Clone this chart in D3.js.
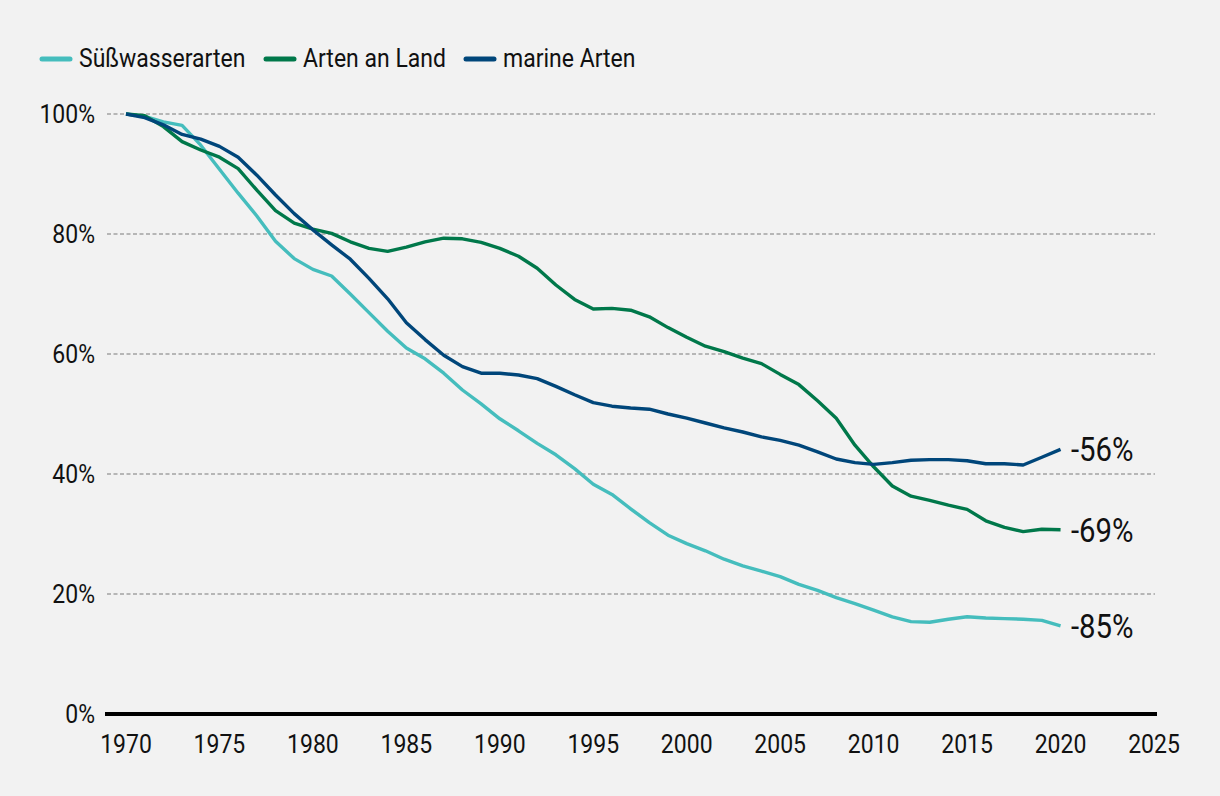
<!DOCTYPE html>
<html>
<head>
<meta charset="utf-8">
<script src="https://cdn.jsdelivr.net/npm/d3@7"></script>
<style>
  html, body { margin: 0; padding: 0; background: #f2f2f2; }
  svg { display: block; }
  text { font-family: Roboto, "Noto Sans", sans-serif; fill: #111; }
</style>
</head>
<body>
<svg id="chart" width="1220" height="796"></svg>
<script>
const years = d3.range(1970, 2021);
const seriesNames = ["Süßwasserarten", "Arten an Land", "marine Arten"];
const seriesColors = ["#45bdbd", "#00784a", "#00467a"];
const freshwater = [100, 99.6, 98.7, 98.1, 94.8, 90.8, 86.8, 83.0, 78.8, 75.9,
  74.1, 73.0, 70.0, 66.9, 63.8, 61.0, 59.2, 56.8, 54.0, 51.7,
  49.2, 47.2, 45.1, 43.2, 40.9, 38.3, 36.6, 34.2, 31.9, 29.8,
  28.4, 27.2, 25.8, 24.7, 23.8, 22.9, 21.6, 20.6, 19.4, 18.4,
  17.3, 16.2, 15.4, 15.3, 15.8, 16.2, 16.0, 15.9, 15.8, 15.6, 14.7];
const land = [100, 99.7, 97.9, 95.4, 94.0, 92.8, 90.9, 87.3, 83.9, 81.8,
  80.8, 80.1, 78.7, 77.6, 77.1, 77.8, 78.7, 79.3, 79.2, 78.6,
  77.6, 76.3, 74.3, 71.5, 69.1, 67.5, 67.6, 67.3, 66.2, 64.4,
  62.8, 61.3, 60.4, 59.3, 58.4, 56.6, 54.9, 52.2, 49.3, 44.8,
  41.2, 38.0, 36.3, 35.6, 34.8, 34.1, 32.2, 31.1, 30.4, 30.8, 30.7];
const marine = [100, 99.4, 98.2, 96.6, 95.8, 94.6, 92.8, 89.8, 86.5, 83.4,
  80.7, 78.2, 75.8, 72.6, 69.2, 65.2, 62.4, 59.8, 57.9, 56.8,
  56.8, 56.5, 55.9, 54.6, 53.2, 51.9, 51.3, 51.0, 50.8, 50.0,
  49.3, 48.5, 47.7, 47.0, 46.2, 45.6, 44.8, 43.7, 42.5, 41.9,
  41.6, 41.9, 42.3, 42.4, 42.4, 42.2, 41.7, 41.7, 41.5, 42.8, 44.1];
const endLabels = ["-85%", "-69%", "-56%"];
const xTicks = d3.range(1970, 2026, 5);
const yTicks = [0, 20, 40, 60, 80, 100];

const allSeries = [freshwater, land, marine];

const svg = d3.select("#chart");
const x = d3.scaleLinear().domain([1970, 2025]).range([126, 1154]);
const y = d3.scaleLinear().domain([0, 100]).range([714, 114]);

function ctext(g, px, py, str, size, anchor, sx) {
  return g.append("text")
    .attr("transform", `translate(${px},${py}) scale(${sx},1)`)
    .attr("text-anchor", anchor)
    .attr("dominant-baseline", "central")
    .style("font-size", size + "px")
    .text(str);
}

// gridlines
const grid = svg.append("g");
grid.selectAll("line").data(yTicks.filter(d => d > 0)).join("line")
  .attr("x1", 107).attr("x2", 1155)
  .attr("y1", d => y(d)).attr("y2", d => y(d))
  .attr("stroke", "#a3a3a3").attr("stroke-width", 1.3)
  .attr("stroke-dasharray", "4,2.5");

// y labels
const yl = svg.append("g");
yTicks.forEach(t => ctext(yl, 95, y(t) + 1, t + "%", 25, "end", 0.92));

// x labels
const xl = svg.append("g");
xTicks.forEach(t => ctext(xl, x(t), 745, String(t), 25, "middle", 0.92));

// lines
const line = d3.line().x((d, i) => x(years[i])).y(d => y(d));
allSeries.forEach((s, k) => {
  svg.append("path").datum(s)
    .attr("fill", "none")
    .attr("stroke", seriesColors[k])
    .attr("stroke-width", 3.4)
    .attr("stroke-linejoin", "round")
    .attr("d", line);
});

// baseline axis
svg.append("line")
  .attr("x1", 105).attr("x2", 1157)
  .attr("y1", y(0)).attr("y2", y(0))
  .attr("stroke", "#000").attr("stroke-width", 4);

// end labels
const el = svg.append("g");
allSeries.forEach((s, k) => {
  ctext(el, 1071, y(s[s.length - 1]) + 1, endLabels[k], 33, "start", 0.89);
});

// legend
const legendX = [40, 264, 464];
const lg = svg.append("g");
seriesNames.forEach((n, k) => {
  lg.append("line")
    .attr("x1", legendX[k] + 2).attr("x2", legendX[k] + 30)
    .attr("y1", 59).attr("y2", 59)
    .attr("stroke", seriesColors[k]).attr("stroke-width", 5)
    .attr("stroke-linecap", "round");
  ctext(lg, legendX[k] + 39, 59, n, 25, "start", 0.92);
});
</script>
</body>
</html>
